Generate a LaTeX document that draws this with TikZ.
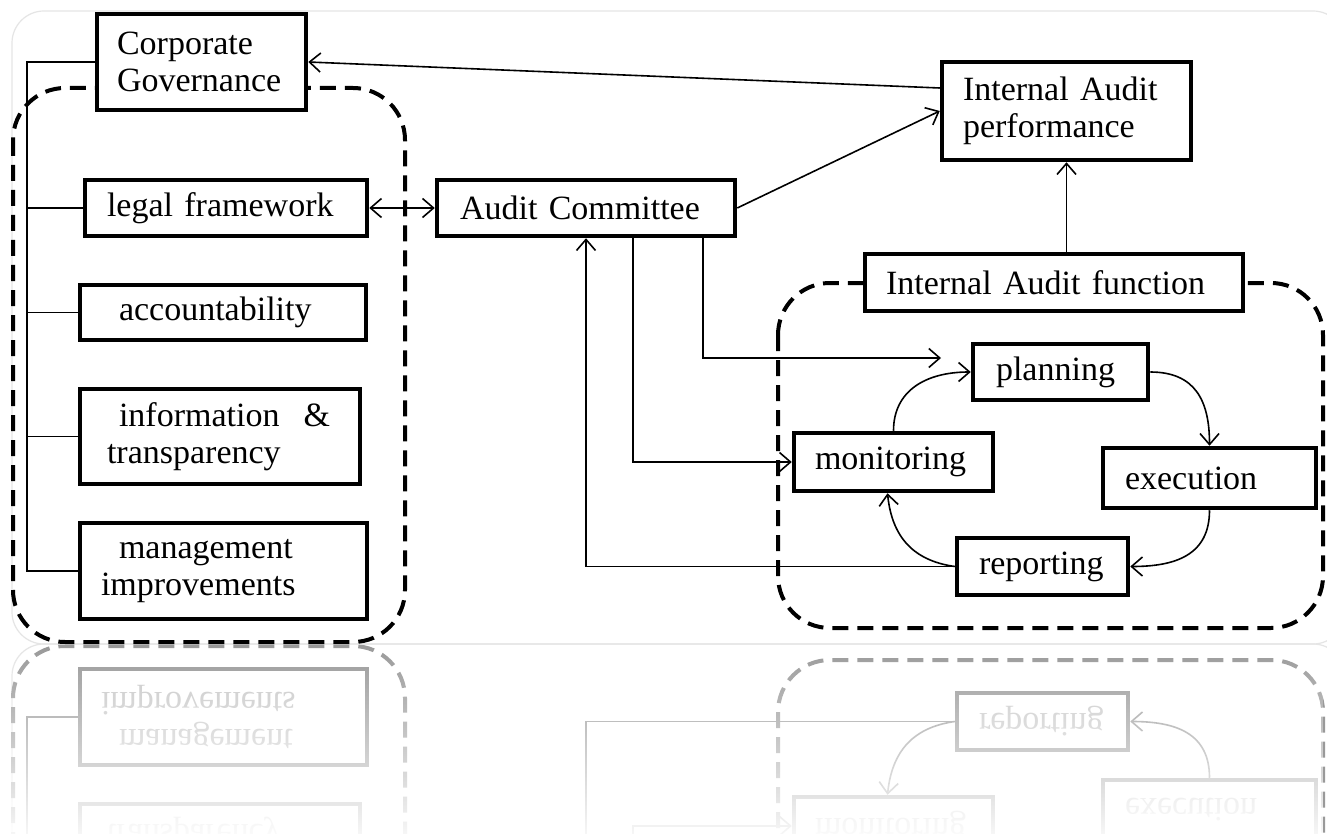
\documentclass[tikz,border=0pt]{standalone}
\usepackage{fontspec}
\setmainfont{Liberation Serif}
\usetikzlibrary{arrows.meta,calc,fadings}
\tikzfading[name=reflfade, top color=transparent!100, bottom color=transparent!8]
\colorlet{fg}{black}
\colorlet{fgt}{black}
\tikzset{
  box/.style={draw=fg, line width=4.5pt, fill=white, inner xsep=0pt, inner ysep=0pt,
    align=left, text=fgt, font=\fontsize{34}{37.5}\selectfont},
  link/.style={draw=fg, line width=1.6pt},
  arr/.style={link, -{Straight Barb[length=11pt,width=19pt]}},
  darr/.style={link, {Straight Barb[length=11pt,width=19pt]}-{Straight Barb[length=11pt,width=19pt]}},
  dbox/.style={draw=fg, line width=4pt, dash pattern=on 16pt off 9pt, rounded corners=52pt},
  frame/.style={draw=gray!20, line width=1.2pt, rounded corners=32pt},
}
\newcommand\mydiagram{%
  \draw[frame] (12,11) rectangle (1345,644);
  \draw[dbox] (13,88) rectangle (405,642);
  \draw[dbox] (778,283) rectangle (1323,628);
  \node[box, minimum width=209pt, minimum height=96pt, text width=169pt] (cg) at (201.5,62) {Corporate\\Governance};
  \node[box, minimum width=282pt, minimum height=56pt, text width=238pt] (legal) at (226,208) {legal framework};
  \node[box, minimum width=286pt, minimum height=55pt, text width=208pt] (acc) at (223,312.5) {accountability};
  \node[box, minimum width=280pt, minimum height=95pt, text width=226pt] (info) at (220,436.5) {\hspace*{12pt}information\hspace{24pt}\&\\transparency};
  \node[box, minimum width=287pt, minimum height=96pt, text width=245pt] (mgmt) at (223.5,571) {\hspace*{18pt}management\\improvements};
  \node[box, minimum width=298pt, minimum height=56pt, text width=252pt] (ac) at (586,208) {Audit Committee};
  \node[box, minimum width=249pt, minimum height=98pt, text width=207pt] (iap) at (1066.5,111) {Internal Audit\\performance};
  \node[box, minimum width=378pt, minimum height=57pt, text width=336pt] (iaf) at (1054,282.5) {Internal Audit function};
  \node[box, minimum width=175pt, minimum height=56pt, text width=129pt] (plan) at (1060.5,372) {planning};
  \node[box, minimum width=199pt, minimum height=58pt, text width=157pt] (mon) at (893.5,462) {monitoring};
  \node[box, minimum width=213pt, minimum height=60pt, text width=169pt] (exec) at (1209.5,478) {execution};
  \node[box, minimum width=171pt, minimum height=57pt, text width=127pt] (rep) at (1042.5,566.5) {reporting};
  \coordinate (bus) at (27,0);
  \coordinate (pa) at (941,358);
  \draw[link] (cg.west) -| (bus |- mgmt.west) -- (mgmt.west);
  \draw[link] (bus |- legal.west) -- (legal.west);
  \draw[link] (bus |- acc.west) -- (acc.west);
  \draw[link] (bus |- info.west) -- (info.west);
  \draw[darr] (legal.east) -- (ac.west);
  \draw[arr] ($(iap.west)+(0,-23)$) -- (cg.east);
  \draw[arr] (ac.east) -- (iap.west);
  \draw[arr] (iap.south |- iaf.north) -- (iap.south);
  \draw[arr] ($(ac.south west)+(268,0)$) |- (pa);
  \draw[arr] ($(ac.south west)+(198,0)$) |- (mon.west);
  \draw[arr] (rep.west) -| (ac.south);
  \draw[arr] (mon.north) .. controls +(0,-40) and +(-45,0) .. (plan.west);
  \draw[arr] (plan.east) .. controls +(45,0) and +(0,-45) .. (exec.north);
  \draw[arr] (exec.south) .. controls +(0,45) and +(45,0) .. (rep.east);
  \draw[arr] (rep.west) .. controls +(-35,-5) and +(5,50) .. ($(mon.south)+(-6,0)$);
}
\begin{document}
\begin{tikzpicture}[x=1pt, y=-1pt]
  \useasboundingbox (0,0) rectangle (1327,834);
  \clip (0,0) rectangle (1327,834);
  \fill[white] (0,0) rectangle (1327,834);
  \begin{scope}[shift={(0,1288)}, yscale=-1, transform shape]
    \colorlet{fg}{black!40}
    \colorlet{fgt}{black!22}
    \mydiagram
  \end{scope}
  \fill[white, path fading=reflfade] (0,645) rectangle (1327,834);
  \mydiagram
\end{tikzpicture}
\end{document}
